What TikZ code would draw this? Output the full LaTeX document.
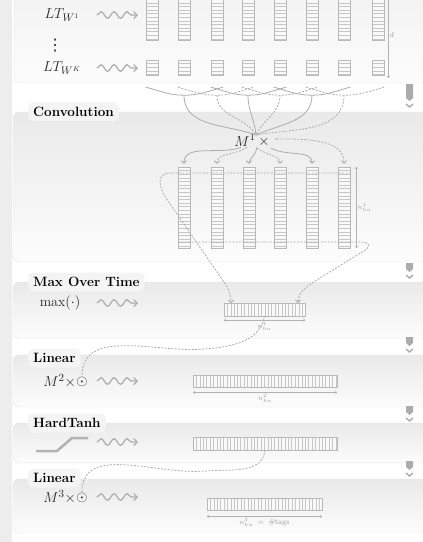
\documentclass[tikz,border=0pt]{standalone}
\usepackage{amsmath,amssymb}
\usepackage{fontspec}
\newfontfamily\dotsfont{DejaVu Sans}
\usepackage{xcolor}
\usepackage{tikz}
\usetikzlibrary{arrows.meta,positioning,decorations.pathmorphing}

% down marker on the right: x, top y, block height
\newcommand\stepmark[3]{%
  \fill[gray!65] (#1-3.5,#2) -- (#1+3.5,#2) -- (#1+3.5,#2-#3) -- (#1,#2-#3-3) -- (#1-3.5,#2-#3) -- cycle;
  \draw[gray!65, line width=1.4pt] (#1-3.5,#2-#3-6) -- (#1,#2-#3-9) -- (#1+3.5,#2-#3-6);
}

\begin{document}
\begin{tikzpicture}[x=1pt, y=1pt, every node/.style={inner sep=1pt}]
  \tikzstyle{panel} = [draw=gray!22, rounded corners=6pt, top color=gray!17, bottom color=gray!2]
  \tikzstyle{tab} = [fill=gray!9, rounded corners=5pt, anchor=west, minimum height=19pt, inner xsep=5pt, font=\fontsize{13.5}{15}\selectfont\bfseries]
  \tikzstyle{lbl} = [font=\fontsize{15}{17}\selectfont, text=black!85]
  \tikzstyle{tinylbl} = [font=\fontsize{7.5}{8}\selectfont, text=gray!80]
  \tikzstyle{link} = [draw=gray!65, line width=0.8pt]
  \tikzstyle{dlink} = [link, dash pattern=on 2pt off 1.4pt]
  \tikzstyle{tip} = [-{Straight Barb[length=2.5pt,width=5pt]}]
  \tikzstyle{dim} = [draw=gray!60, line width=0.4pt, {Straight Barb[length=2pt,width=3.5pt]}-{Straight Barb[length=2pt,width=3.5pt]}]
  \tikzstyle{squig} = [draw=gray!65, line width=1.2pt, decorate, decoration={snake, amplitude=3.3pt, segment length=13pt, post length=6pt}, -{Straight Barb[length=3.5pt,width=7pt]}]
  \tikzstyle{vcol} = [draw=gray!55, fill=gray!5, inner sep=0pt, minimum width=12.5pt, path picture={\foreach \s in {1,...,40} \draw[gray!45, line width=0.3pt] ([yshift=-\s*3.6pt]path picture bounding box.north west) -- ([yshift=-\s*3.6pt]path picture bounding box.north east);}]
  \tikzstyle{hrow} = [draw=gray!55, fill=gray!5, inner sep=0pt, minimum height=12.5pt, path picture={\foreach \s in {1,...,50} \draw[gray!45, line width=0.3pt] ([xshift=\s*3.4pt]path picture bounding box.south west) -- ([xshift=\s*3.4pt]path picture bounding box.north west);}]

  \clip (0,0) rectangle (423,-542);
  \fill[gray!14] (0,0) rectangle (12,-542);

  % Panels
  \path[panel, top color=gray!10] (14,10) rectangle (440,-83);
  \fill[gray!9, rounded corners=5pt] (28,8) rectangle (125,-3);
  \path[panel] (13,-112) rectangle (440,-262);
  \path[panel] (13,-282) rectangle (440,-338);
  \path[panel] (13,-355) rectangle (440,-407);
  \path[panel] (13,-423) rectangle (440,-463);
  \path[panel] (13,-479) rectangle (440,-533);

  % Tabs
  \node[tab] (convtab) at (28,-111.5) {Convolution};
  \node[tab] (maxtab) at (28,-282) {Max Over Time};
  \node[tab] (lintab) at (28,-358) {Linear};
  \node[tab] (httab) at (28,-423) {HardTanh};
  \node[tab] (outtab) at (28,-478) {Linear};

  % Layer labels
  \node[lbl] (ltw1) at (62,-15) {$LT_{W^1}$};
  \node[lbl, font=\fontsize{16}{18}\dotsfont, inner sep=0pt] (vdots) at (55,-46) {⋮};
  \node[lbl] (ltwk) at (62,-68) {$LT_{W^K}$};
  \node[lbl, font=\fontsize{14}{16}\selectfont] (maxlbl) at (60,-303) {$\max(\cdot)$};
  \node[lbl, anchor=east] (m2) at (77,-381) {$M^2\times$};
  \node[lbl] (odot2) at (82,-382) {$\odot$};
  \node[lbl, anchor=east] (m3) at (77,-497) {$M^3\times$};
  \node[lbl] (odot3) at (82,-498) {$\odot$};
  \draw[gray!60, line width=2.5pt] (36,-451) -- (57,-451) -- (72,-438) -- (88,-438);

  % Squiggly arrows
  \foreach \y [count=\i] in {15,68,303,381,442,497}{
    \coordinate (sq\i a) at (97,-\y);
    \coordinate (sq\i b) at (138,-\y);
    \draw[squig] (sq\i a) -- (sq\i b);
  }

  % Lookup table columns
  \foreach \x [count=\i] in {152,184,217,248,280,312,344,378}{
    \node[vcol, minimum height=48pt] (top\i) at (\x,-16) {};
    \node[vcol, minimum height=15pt] (bot\i) at (\x,-67.5) {};
  }
  \draw[dim] ([xshift=4pt]top8.north east) -- ([xshift=4pt,yshift=-3pt]bot8.south east) node[tinylbl, midway, right] {$d$};

  % Windows
  \foreach \c/\sty in {2/link,3/dlink,4/link,5/dlink,6/link,7/dlink}{
    \pgfmathtruncatemacro\l{\c-1}
    \pgfmathtruncatemacro\r{\c+1}
    \coordinate (win\c) at ([yshift=-20pt]bot\c.south);
    \draw[\sty] ([xshift=-6pt,yshift=-12pt]bot\l.south) to[out=-15,in=180] (win\c) to[out=0,in=195] ([xshift=6pt,yshift=-12pt]bot\r.south);
  }

  % Convolution
  \coordinate (hub) at (256,-135);
  \node[lbl] (m1) at (245,-140) {$M^1$};
  \node[lbl, font=\fontsize{14}{16}\selectfont] (times1) at (264,-142) {$\times$};
  \node[circle, fill=gray!70, inner sep=0.6pt] (dot1) at (276,-139) {};
  \draw[link] (win2) to[out=-90,in=160] (hub);
  \draw[dlink] (win3) to[out=-90,in=120] (hub);
  \draw[link] (win4) to[out=-90,in=95] (hub);
  \draw[dlink] (win5) to[out=-90,in=65] (hub);
  \draw[link] (win6) to[out=-90,in=25] (hub);
  \draw[dlink] (win7) to[out=-90,in=10] (hub);

  \foreach \x [count=\i from 2] in {184,217,249,280,312,344}{
    \node[vcol, minimum height=81pt] (conv\i) at (\x,-207.5) {};
  }
  \draw[dim] ([xshift=6pt]conv7.north east) -- ([xshift=6pt]conv7.south east) node[tinylbl, midway, right] {$n^1_{hu}$};

  \draw[link, tip, shorten >=3pt] ([xshift=-4pt]m1.south) to[out=-160,in=90] (conv2.north);
  \draw[dlink, tip, shorten >=3pt] ([xshift=2pt]m1.south) to[out=-145,in=90] (conv3.north);
  \draw[link, tip, shorten >=3pt] (m1.south east) to[out=-95,in=90] (conv4.north);
  \draw[dlink, tip, shorten >=3pt] (times1.south west) to[out=-40,in=90] (conv5.north);
  \draw[link, tip, shorten >=3pt] (times1.south east) to[out=-30,in=90] (conv6.north);
  \draw[dlink, tip, shorten >=3pt] (dot1.east) to[out=0,in=90] (conv7.north);

  % Max over time
  \node[hrow, minimum width=81pt] (maxbox) at (264.5,-309.5) {};
  \draw[dim] ([yshift=-4pt]maxbox.south west) -- ([yshift=-4pt]maxbox.south east) node[tinylbl, midway, below=1pt] {$n^1_{hu}$};
  \coordinate (rowtopR) at (351,-173);
  \coordinate (rowtopL) at (170,-173);
  \coordinate (rowbotL) at (178,-242);
  \coordinate (rowbotR) at (360,-242);
  \coordinate (mxin1) at (231,-303);
  \coordinate (mxin2) at (298,-303);
  \draw[dlink, tip] (rowtopR) -- (rowtopL) .. controls (157,-173) and (158,-186) .. (166,-198) -- (217,-272) to[out=-55,in=90] (mxin1);
  \draw[dlink, tip] (rowbotL) -- (rowbotR) .. controls (372,-242) and (370,-248) .. (362,-252) -- (312,-283) to[out=-145,in=90] (mxin2);

  % Linear
  \node[hrow, minimum width=144pt] (linbox) at (265,-381) {};
  \draw[dim] ([yshift=-5pt]linbox.south west) -- ([yshift=-5pt]linbox.south east) node[tinylbl, midway, below=1pt] {$n^2_{hu}$};
  \draw[dlink] (maxbox.south) to[out=-100,in=5] (205,-349) to[out=185,in=90] (odot2.north);

  % HardTanh
  \node[hrow, minimum width=144pt] (htbox) at (265,-443.5) {};
  \draw[dlink] (htbox.south) to[out=-95,in=5] (205,-471) to[out=185,in=90] (odot3.north);

  % Linear (output)
  \node[hrow, minimum width=115pt] (outbox) at (264.5,-504) {};
  \draw[dim] ([yshift=-6pt]outbox.south west) -- ([yshift=-6pt]outbox.south east) node[tinylbl, midway, below=1pt] {$n^3_{hu}\;=\;\#\mathrm{tags}$};

  % Markers
  \stepmark{409.5}{-84}{14}
  \stepmark{409.5}{-263}{6}
  \stepmark{409.5}{-337}{6}
  \stepmark{409.5}{-406}{6}
  \stepmark{409.5}{-461}{6}
\end{tikzpicture}
\end{document}
